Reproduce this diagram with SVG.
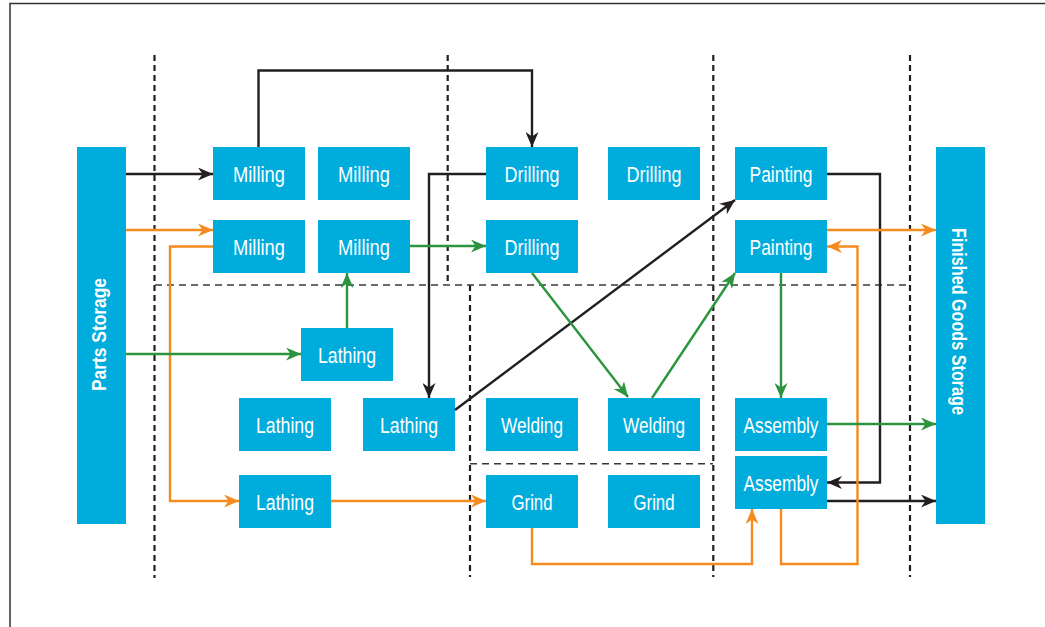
<svg xmlns="http://www.w3.org/2000/svg" width="1045" height="627" viewBox="0 0 1045 627">
  <style>
    .box { fill: #00ACDC; }
    .lbl { fill: #FFFFFF; font-family: "Liberation Sans", Arial, sans-serif; font-size: 22px; text-anchor: middle; }
    .vlbl { fill: #FFFFFF; font-family: "Liberation Sans", Arial, sans-serif; font-size: 20px; font-weight: bold; text-anchor: middle; }
    .zone { fill: none; stroke: #231F20; stroke-width: 2.2; stroke-dasharray: 6 4; }
    .zone-h { fill: none; stroke: #3A3A3A; stroke-width: 1.5; stroke-dasharray: 7 5; }
    .blk { fill: none; stroke: #231F20; stroke-width: 2.4; marker-end: url(#ah-blk); }
    .org { fill: none; stroke: #F58A1F; stroke-width: 2.4; marker-end: url(#ah-org); }
    .grn { fill: none; stroke: #2C943F; stroke-width: 2.4; marker-end: url(#ah-grn); }
  </style>
  <defs>
    <marker id="ah-blk" markerUnits="userSpaceOnUse" markerWidth="15" markerHeight="13" refX="15" refY="6.5" orient="auto">
      <path d="M0,0 L15,6.5 L0,13 L4.5,6.5 Z" fill="#231F20"/>
    </marker>
    <marker id="ah-org" markerUnits="userSpaceOnUse" markerWidth="15" markerHeight="13" refX="15" refY="6.5" orient="auto">
      <path d="M0,0 L15,6.5 L0,13 L4.5,6.5 Z" fill="#F58A1F"/>
    </marker>
    <marker id="ah-grn" markerUnits="userSpaceOnUse" markerWidth="15" markerHeight="13" refX="15" refY="6.5" orient="auto">
      <path d="M0,0 L15,6.5 L0,13 L4.5,6.5 Z" fill="#2C943F"/>
    </marker>
  </defs>

  <rect width="1045" height="627" fill="#FFFFFF"/>
  <!-- frame -->
  <path d="M10,627 V3.5 H1045" fill="none" stroke="#333333" stroke-width="1.5"/>

  <!-- zone boundaries -->
  <g id="zones">
    <path class="zone" d="M154.5,55 V578"/>
    <path class="zone" d="M447.7,55 V285"/>
    <path class="zone" d="M470,285 V577"/>
    <path class="zone" d="M713.3,55 V577"/>
    <path class="zone" d="M910,55 V577"/>
    <path class="zone-h" d="M155,285 H910"/>
    <path class="zone-h" d="M470,463.7 H713"/>
  </g>

  <!-- storage -->
  <g id="parts-storage">
    <rect class="box" x="77" y="147" width="49" height="377"/>
    <text class="vlbl" transform="translate(106,334.5) rotate(-90)" textLength="113" lengthAdjust="spacingAndGlyphs">Parts Storage</text>
  </g>
  <g id="finished-storage">
    <rect class="box" x="936" y="147" width="49" height="377"/>
    <text class="vlbl" transform="translate(952,321.5) rotate(90)" textLength="187" lengthAdjust="spacingAndGlyphs">Finished Goods Storage</text>
  </g>

  <!-- machines -->
  <g id="milling-1"><rect class="box" x="213" y="147" width="92" height="53"/><text class="lbl" x="259" y="182" textLength="52" lengthAdjust="spacingAndGlyphs">Milling</text></g>
  <g id="milling-2"><rect class="box" x="318" y="147" width="92" height="53"/><text class="lbl" x="364" y="182" textLength="52" lengthAdjust="spacingAndGlyphs">Milling</text></g>
  <g id="milling-3"><rect class="box" x="213" y="220" width="92" height="53"/><text class="lbl" x="259" y="255" textLength="52" lengthAdjust="spacingAndGlyphs">Milling</text></g>
  <g id="milling-4"><rect class="box" x="318" y="220" width="92" height="53"/><text class="lbl" x="364" y="255" textLength="52" lengthAdjust="spacingAndGlyphs">Milling</text></g>

  <g id="drilling-1"><rect class="box" x="486" y="147" width="92" height="53"/><text class="lbl" x="532" y="182" textLength="55" lengthAdjust="spacingAndGlyphs">Drilling</text></g>
  <g id="drilling-2"><rect class="box" x="608" y="147" width="92" height="53"/><text class="lbl" x="654" y="182" textLength="55" lengthAdjust="spacingAndGlyphs">Drilling</text></g>
  <g id="drilling-3"><rect class="box" x="486" y="220" width="92" height="53"/><text class="lbl" x="532" y="255" textLength="55" lengthAdjust="spacingAndGlyphs">Drilling</text></g>

  <g id="painting-1"><rect class="box" x="735" y="147" width="92" height="53"/><text class="lbl" x="781" y="182" textLength="63" lengthAdjust="spacingAndGlyphs">Painting</text></g>
  <g id="painting-2"><rect class="box" x="735" y="220" width="92" height="53"/><text class="lbl" x="781" y="255" textLength="63" lengthAdjust="spacingAndGlyphs">Painting</text></g>

  <g id="lathing-1"><rect class="box" x="301" y="328" width="92" height="53"/><text class="lbl" x="347" y="363" textLength="58" lengthAdjust="spacingAndGlyphs">Lathing</text></g>
  <g id="lathing-2"><rect class="box" x="239" y="398" width="92" height="53"/><text class="lbl" x="285" y="433" textLength="58" lengthAdjust="spacingAndGlyphs">Lathing</text></g>
  <g id="lathing-3"><rect class="box" x="363" y="398" width="92" height="53"/><text class="lbl" x="409" y="433" textLength="58" lengthAdjust="spacingAndGlyphs">Lathing</text></g>
  <g id="lathing-4"><rect class="box" x="239" y="475" width="92" height="53"/><text class="lbl" x="285" y="510" textLength="58" lengthAdjust="spacingAndGlyphs">Lathing</text></g>

  <g id="welding-1"><rect class="box" x="486" y="398" width="92" height="53"/><text class="lbl" x="532" y="433" textLength="62" lengthAdjust="spacingAndGlyphs">Welding</text></g>
  <g id="welding-2"><rect class="box" x="608" y="398" width="92" height="53"/><text class="lbl" x="654" y="433" textLength="62" lengthAdjust="spacingAndGlyphs">Welding</text></g>

  <g id="grind-1"><rect class="box" x="486" y="475" width="92" height="53"/><text class="lbl" x="532" y="510" textLength="41" lengthAdjust="spacingAndGlyphs">Grind</text></g>
  <g id="grind-2"><rect class="box" x="608" y="475" width="92" height="53"/><text class="lbl" x="654" y="510" textLength="41" lengthAdjust="spacingAndGlyphs">Grind</text></g>

  <g id="assembly-1"><rect class="box" x="735" y="398" width="92" height="53"/><text class="lbl" x="781" y="433" textLength="75" lengthAdjust="spacingAndGlyphs">Assembly</text></g>
  <g id="assembly-2"><rect class="box" x="735" y="456" width="92" height="53"/><text class="lbl" x="781" y="491" textLength="75" lengthAdjust="spacingAndGlyphs">Assembly</text></g>

  <!-- material flows -->
  <g id="connectors">
    <!-- black route -->
    <path class="blk" d="M126,174 H213"/>
    <path class="blk" d="M258.5,147 V70.5 H532 V147"/>
    <path class="blk" d="M486,174 H429 V398"/>
    <path class="blk" d="M455,410 L735,200"/>
    <path class="blk" d="M827,174 H880 V482.5 H827"/>
    <path class="blk" d="M827,501 H936"/>
    <!-- orange route -->
    <path class="org" d="M126,230 H213"/>
    <path class="org" d="M213,246.5 H170 V501 H239"/>
    <path class="org" d="M331,501 H486"/>
    <path class="org" d="M532,528 V564 H752 V509"/>
    <path class="org" d="M781,509 V564 H857.5 V246.5 H827"/>
    <path class="org" d="M827,230 H936"/>
    <!-- green route -->
    <path class="grn" d="M126,354 H301"/>
    <path class="grn" d="M347,328 V273"/>
    <path class="grn" d="M410,246 H486"/>
    <path class="grn" d="M532,273 L628,397"/>
    <path class="grn" d="M652,398 L735,273"/>
    <path class="grn" d="M781,273 V398"/>
    <path class="grn" d="M827,424 H936"/>
  </g>
</svg>
